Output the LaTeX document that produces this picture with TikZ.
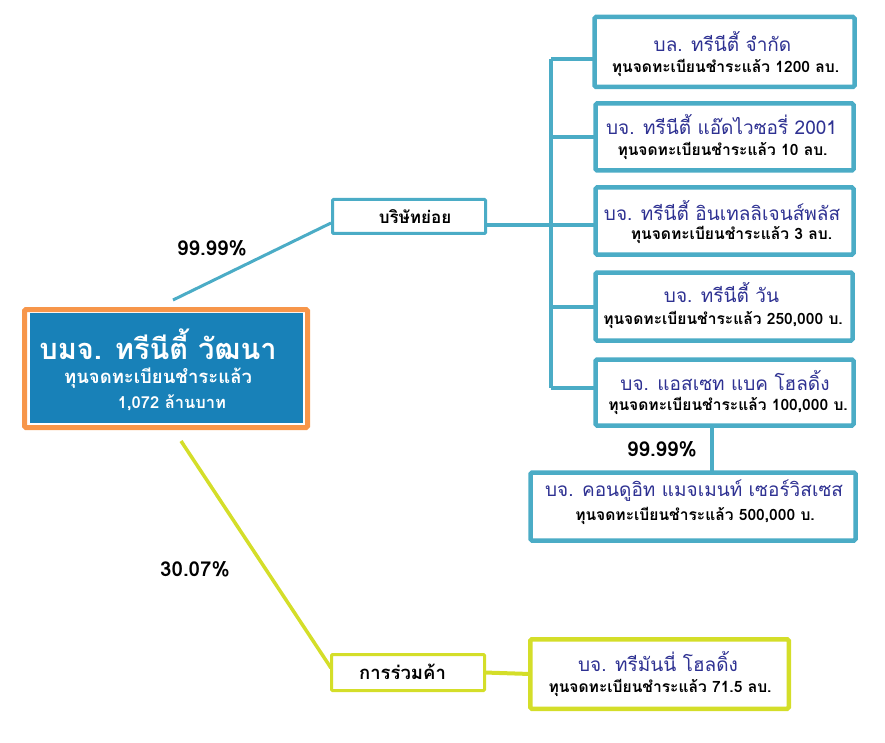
\documentclass[tikz,border=0pt]{standalone}
\usepackage{fontspec}
\newfontfamily\thai[Script=Thai]{Loma}
\usetikzlibrary{calc}
\definecolor{aqua}{RGB}{75,172,198}
\definecolor{limeg}{RGB}{212,222,41}
\definecolor{mainblue}{RGB}{24,129,184}
\definecolor{orng}{RGB}{247,150,74}
\definecolor{navy}{RGB}{46,49,146}
\tikzset{
  subbox/.style={draw=aqua, line width=4.5pt, fill=white, inner sep=0pt, outer sep=0pt, rounded corners=1.5pt},
  jvbox/.style={draw=limeg, line width=4.5pt, fill=white, inner sep=0pt, outer sep=0pt, rounded corners=1.5pt},
  catbox/.style={draw=#1, line width=3pt, fill=white, inner sep=0pt, outer sep=0pt, rounded corners=1pt},
  ttl/.style={text=navy, font=\thai\fontsize{19}{22}\selectfont, inner sep=0pt},
  captxt/.style={text=black, font=\thai\bfseries\fontsize{15.6}{18}\selectfont, inner sep=0pt},
  lbl/.style={text=black, font=\thai\bfseries\fontsize{17}{20}\selectfont, inner sep=0pt},
  pct/.style={text=black, font=\thai\bfseries\fontsize{20.5}{23}\selectfont, inner sep=0pt},
  aqualine/.style={draw=aqua, line width=4pt},
  limeline/.style={draw=limeg, line width=3.5pt},
}
\begin{document}
\begin{tikzpicture}[x=1pt,y=-1pt]
\useasboundingbox (0,0) rectangle (885,743);
% coordinates
\coordinate (m1) at (173,300);
\coordinate (s1) at (331,223);
\coordinate (j1) at (551,59);
\coordinate (j2) at (551,137);
\coordinate (j3) at (551,225);
\coordinate (j4) at (551,307);
\coordinate (j5) at (551,388);
\coordinate (vx) at (712,0);
\coordinate (m2) at (181,441);
\coordinate (jv1) at (331,668);
% main box
\node[draw=orng, line width=5pt, fill=white, minimum width=283pt, minimum height=118pt, inner sep=0pt, rounded corners=1.5pt] (main) at (166,368.5) {};
\node[fill=mainblue, minimum width=273pt, minimum height=110pt, inner sep=0pt] (mainfill) at (166.5,368) {};
\node[text=white, font=\thai\bfseries\fontsize{29}{32}\selectfont, inner sep=0pt] (mt1) at (158,344) {บมจ. ทรีนีตี้ วัฒนา};
\node[text=white, font=\thai\bfseries\fontsize{18.5}{21}\selectfont, inner sep=0pt] (mt2) at (158,378) {ทุนจดทะเบียนชำระแล้ว};
\node[text=white, font=\thai\bfseries\fontsize{16.5}{19}\selectfont, inner sep=0pt] (mt3) at (172,403) {1,072 ล้านบาท};
% category boxes
\node[catbox=aqua, minimum width=153pt, minimum height=34pt] (sub) at (409,216.5) {};
\node[lbl] (subt) at (415,217) {บริษัทย่อย};
\node[catbox=limeg, minimum width=153pt, minimum height=36pt] (jv) at (408,672.5) {};
\node[lbl, font=\thai\bfseries\fontsize{18.5}{21}\selectfont] (jvt) at (402.5,672) {การร่วมค้า};
% connectors
\draw[draw=aqua, line width=3pt] (m1) -- (s1);
\draw[aqualine] (j1) -- (j5);
\draw[aqualine] (sub.east |- j3) -- (j3);
\draw[limeline] (m2) -- (jv1);
% subsidiary boxes
\node[subbox, minimum width=260pt, minimum height=70pt] (b1) at (724.5,52) {};
\node[subbox, minimum width=258pt, minimum height=67pt] (b2) at (724.5,137) {};
\node[subbox, minimum width=258pt, minimum height=67pt] (b3) at (724.5,221) {};
\node[subbox, minimum width=257pt, minimum height=68pt] (b4) at (724,306.5) {};
\node[subbox, minimum width=258pt, minimum height=66pt] (b5) at (724.5,392.5) {};
\node[subbox, minimum width=325pt, minimum height=68pt] (b6) at (693,506.5) {};
\node[jvbox, minimum width=258.5pt, minimum height=69.5pt] (b7) at (659.5,674) {};
\draw[aqualine] (j1) -- (j1 -| b1.west);
\draw[aqualine] (j2) -- (j2 -| b2.west);
\draw[aqualine] (j3) -- (j3 -| b3.west);
\draw[aqualine] (j4) -- (j4 -| b4.west);
\draw[aqualine] (j5) -- (j5 -| b5.west);
\draw[aqualine] (b5.south -| vx) -- (b6.north -| vx);
\draw[draw=limeg, line width=4pt] (jv.east) -- (b7.west);
% texts
\node[ttl] (t1) at (722.5,41) {บล. ทรีนีตี้ จำกัด};
\node[captxt] (c1) at (725.5,68) {ทุนจดทะเบียนชำระแล้ว 1200 ลบ.};
\node[ttl] (t2) at (721.5,124) {บจ. ทรีนีตี้ แอ๊ดไวซอรี่ 2001};
\node[captxt] (c2) at (722.5,151) {ทุนจดทะเบียนชำระแล้ว 10 ลบ.};
\node[ttl] (t3) at (722,210) {บจ. ทรีนีตี้ อินเทลลิเจนส์พลัส};
\node[captxt] (c3) at (731.5,235) {ทุนจดทะเบียนชำระแล้ว 3 ลบ.};
\node[ttl] (t4) at (721.5,292) {บจ. ทรีนีตี้ วัน};
\node[captxt] (c4) at (723,320) {ทุนจดทะเบียนชำระแล้ว 250,000 บ.};
\node[ttl] (t5) at (725,380) {บจ. แอสเซท แบค โฮลดิ้ง};
\node[captxt] (c5) at (728,406) {ทุนจดทะเบียนชำระแล้ว 100,000 บ.};
\node[ttl] (t6) at (694,491) {บจ. คอนดูอิท แมจเมนท์ เซอร์วิสเซส};
\node[captxt] (c6) at (695,516) {ทุนจดทะเบียนชำระแล้ว 500,000 บ.};
\node[ttl] (t7) at (658,661) {บจ. ทรีมันนี่ โฮลดิ้ง};
\node[captxt] (c7) at (660,688) {ทุนจดทะเบียนชำระแล้ว 71.5 ลบ.};
% percentages
\node[pct] (p1) at (212,248) {99.99\%};
\node[pct] (p2) at (662,449) {99.99\%};
\node[pct] (p3) at (195,569) {30.07\%};
\end{tikzpicture}
\end{document}
